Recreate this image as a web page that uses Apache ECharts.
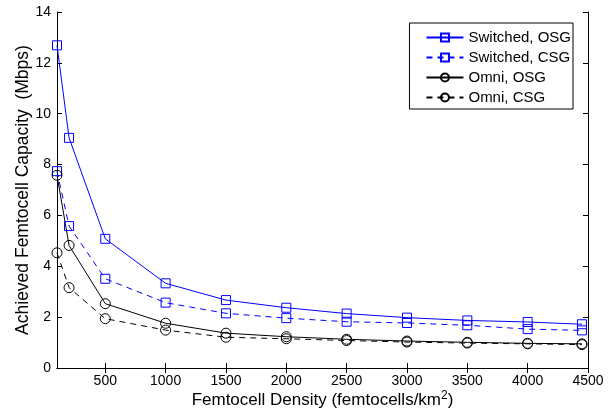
<!DOCTYPE html>
<html>
<head>
<meta charset="utf-8">
<script src="https://cdn.jsdelivr.net/npm/echarts@6/dist/echarts.min.js"></script>
<style>html,body{margin:0;padding:0;background:#fff}#c{width:615px;height:414px}</style>
</head>
<body>
<div id="c"></div>
<script>
const densities = [100, 200, 500, 1000, 1500, 2000, 2500, 3000, 3500, 4000, 4450];
const switchedOSG = [12.69, 9.05, 5.08, 3.33, 2.67, 2.37, 2.14, 1.98, 1.87, 1.81, 1.72];
const switchedCSG = [7.74, 5.58, 3.51, 2.57, 2.15, 1.96, 1.82, 1.77, 1.68, 1.53, 1.48];
const omniOSG = [7.58, 4.82, 2.53, 1.76, 1.37, 1.23, 1.13, 1.06, 1.01, 0.97, 0.95];
const omniCSG = [4.53, 3.16, 1.94, 1.49, 1.21, 1.15, 1.08, 1.02, 0.98, 0.95, 0.92];
const xTicks = [500, 1000, 1500, 2000, 2500, 3000, 3500, 4000, 4500];
const seriesNames = ['Switched, OSG', 'Switched, CSG', 'Omni, OSG', 'Omni, CSG'];

const font = 'Liberation Sans, Arial, sans-serif';
const pair = arr => densities.map((d, i) => [d, arr[i]]);
function mk(name, arr, color, dashed, symbol, size) {
  return {
    name, type: 'line', data: pair(arr),
    symbol, symbolSize: size, showSymbol: true,
    itemStyle: { color: 'rgba(255,255,255,0)', borderColor: color, borderWidth: 1 },
    lineStyle: { color, width: 1, type: dashed ? [6, 5] : 'solid' },
    emphasis: { disabled: true }, animation: false, z: 3
  };
}
const chart = echarts.init(document.getElementById('c'), null, { renderer: 'canvas' });
const axisLine = { show: true, lineStyle: { color: '#000', width: 1 } };
chart.setOption({
  backgroundColor: '#fff',
  animation: false,
  grid: { left: 57, right: 27, top: 12, bottom: 45, containLabel: false },
  legend: {
    data: seriesNames,
    orient: 'vertical',
    right: 42, top: 23,
    backgroundColor: '#fff',
    borderColor: '#000', borderWidth: 1, borderRadius: 0,
    padding: [7, 2, 4, 16],
    itemGap: 5, itemWidth: 37, itemHeight: 10,
    textStyle: { fontFamily: font, fontSize: 15, color: '#000', lineHeight: 15 }
  },
  xAxis: [{
    type: 'value', min: 100, max: 4500,
    name: '{a|Femtocell Density (femtocells/km}{s|2}{a|)}',
    nameLocation: 'middle', nameGap: 22, nameMoveOverlap: false,
    nameTextStyle: {
      rich: {
        a: { fontFamily: font, fontSize: 17, color: '#000' },
        s: { fontFamily: font, fontSize: 12, color: '#000', verticalAlign: 'top', padding: [0, 0, 9, 0] }
      }
    },
    axisLine,
    axisTick: { show: true, inside: true, length: 5, customValues: xTicks, lineStyle: { color: '#000' } },
    axisLabel: { customValues: xTicks, formatter: v => String(v), fontFamily: font, fontSize: 14, color: '#000', margin: 6 },
    splitLine: { show: false }
  }, {
    type: 'value', min: 100, max: 4500, position: 'top',
    axisLine,
    axisTick: { show: true, inside: true, length: 5, customValues: xTicks, lineStyle: { color: '#000' } },
    axisLabel: { show: false },
    splitLine: { show: false }
  }],
  yAxis: [{
    type: 'value', min: 0, max: 14, interval: 2,
    name: 'Achieved Femtocell Capacity  (Mbps)',
    nameLocation: 'middle', nameGap: 25, nameRotate: 90, nameMoveOverlap: false,
    nameTextStyle: { fontFamily: font, fontSize: 17.5, color: '#000' },
    axisLine,
    axisTick: { show: true, inside: true, length: 5, lineStyle: { color: '#000' } },
    axisLabel: { formatter: v => String(v), fontFamily: font, fontSize: 14, color: '#000', margin: 6 },
    splitLine: { show: false }
  }, {
    type: 'value', min: 0, max: 14, interval: 2, position: 'right',
    axisLine,
    axisTick: { show: true, inside: true, length: 5, lineStyle: { color: '#000' } },
    axisLabel: { show: false },
    splitLine: { show: false }
  }],
  series: [
    mk(seriesNames[0], switchedOSG, '#0000ff', false, 'rect', 9),
    mk(seriesNames[1], switchedCSG, '#0000ff', true, 'rect', 9),
    mk(seriesNames[2], omniOSG, '#000000', false, 'circle', 10),
    mk(seriesNames[3], omniCSG, '#000000', true, 'circle', 10)
  ]
});
</script>
</body>
</html>
